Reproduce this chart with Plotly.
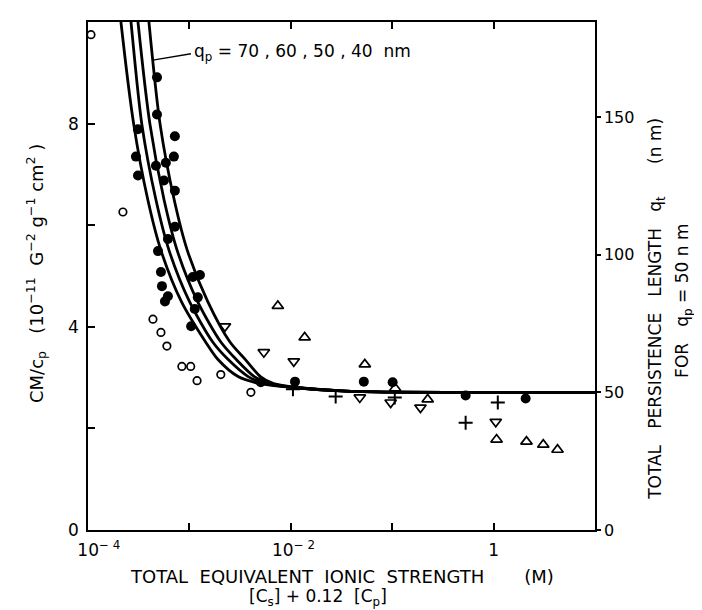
import plotly.graph_objects as go

# ---- data ----
# filled circles
filled_x = [4.79e-4, 4.79e-4, 7.19e-4, 3.11e-4, 2.97e-4, 4.68e-4, 5.86e-4, 7.03e-4, 3.11e-4, 5.61e-4,
            7.19e-4, 7.19e-4, 6.14e-4, 4.90e-4, 5.24e-4, 5.36e-4, 6.14e-4, 5.74e-4, 1.27e-3, 1.08e-3,
            1.21e-3, 1.13e-3, 1.04e-3, 5.06e-3, 1.10e-2, 5.25e-2, 0.101, 0.53, 2.07]
filled_y = [8.91, 8.18, 7.75, 7.89, 7.35, 7.17, 7.23, 7.35, 6.98, 6.88,
            6.68, 5.97, 5.73, 5.49, 5.08, 4.80, 4.60, 4.50, 5.02, 4.98,
            4.58, 4.35, 4.01, 2.91, 2.92, 2.92, 2.91, 2.65, 2.59]
# open circles
open_x = [1.07e-4, 2.21e-4, 4.37e-4, 5.24e-4, 6.0e-4, 8.43e-4, 1.03e-3, 1.19e-3, 2.04e-3, 4.04e-3]
open_y = [9.75, 6.26, 4.15, 3.89, 3.62, 3.22, 3.22, 2.94, 3.06, 2.71]
# open down-triangles
tdown_x = [2.24e-3, 5.42e-3, 1.07e-2, 4.79e-2, 9.66e-2, 0.19, 1.05]
tdown_y = [4.01, 3.50, 3.32, 2.61, 2.51, 2.41, 2.13]
# open up-triangles
tup_x = [7.45e-3, 1.37e-2, 5.37e-2, 0.107, 0.224, 1.07, 2.11, 3.09, 4.27]
tup_y = [4.41, 3.79, 3.26, 2.79, 2.57, 1.78, 1.74, 1.68, 1.58]
# plus signs
plus_x = [1.05e-2, 2.77e-2, 0.106, 0.53, 1.10]
plus_y = [2.77, 2.63, 2.61, 2.11, 2.51]

# theoretical curves (four q_p values, left to right)
curve_y = [10.5, 10.0, 8.0, 6.5, 5.5, 4.5, 3.7, 3.36, 3.02, 2.88, 2.80, 2.74, 2.715, 2.71, 2.71]
curve_x1 = [1.995e-4, 2.113e-4, 2.818e-4, 3.890e-4, 5.248e-4, 8.318e-4, 1.445e-3, 1.905e-3, 3.020e-3,
            5.012e-3, 1.122e-2, 3.162e-2, 0.1, 1.0, 10.0]
curve_x2 = [2.512e-4, 2.655e-4, 3.388e-4, 4.677e-4, 6.310e-4, 1.0e-3, 1.698e-3, 2.399e-3, 3.802e-3,
            5.623e-3, 1.148e-2, 3.162e-2, 0.1, 1.0, 10.0]
curve_x3 = [2.951e-4, 3.112e-4, 4.074e-4, 5.623e-4, 7.586e-4, 1.202e-3, 2.042e-3, 2.884e-3, 4.365e-3,
            6.166e-3, 1.175e-2, 3.162e-2, 0.1, 1.0, 10.0]
curve_x4 = [3.802e-4, 3.990e-4, 5.129e-4, 7.079e-4, 9.550e-4, 1.514e-3, 2.512e-3, 3.548e-3, 5.012e-3,
            6.761e-3, 1.202e-2, 3.162e-2, 0.1, 1.0, 10.0]

NB = "\u00a0"
x_tickvals = [1e-4, 1e-3, 1e-2, 1e-1, 1, 10]
x_ticktext = [NB * 4 + "10<sup>\u2212 4</sup>", "", NB + "10<sup>\u2212 2</sup>", "", "1", ""]
y_tickvals = [0, 2, 4, 6, 8]
y_ticktext = ["0", "", "4", "", "8"]
y2_tickvals = [0, 50, 100, 150]
y2_ticktext = ["0", "50", "100", "150"]

FONT = "DejaVu Sans"
L, R, T, B = 80, 115, 12, 88
W, H = 702, 610
PW, PH = W - L - R, H - T - B


def paper(px, py):
    return (px - L) / PW, (H - B - py) / PH


fig = go.Figure()

for cx in [curve_x1, curve_x2, curve_x3, curve_x4]:
    fig.add_trace(go.Scatter(x=cx, y=curve_y, mode="lines",
                             line=dict(color="black", width=2.8, shape="spline", smoothing=0.8),
                             hoverinfo="skip", showlegend=False))

fig.add_trace(go.Scatter(x=open_x, y=open_y, mode="markers",
                         marker=dict(symbol="circle-open", size=7.5, color="black", line=dict(width=1.7)),
                         showlegend=False))
fig.add_trace(go.Scatter(x=tdown_x, y=tdown_y, mode="markers",
                         marker=dict(symbol="triangle-down-open", size=10, color="black", line=dict(width=1.7)),
                         showlegend=False))
fig.add_trace(go.Scatter(x=tup_x, y=tup_y, mode="markers",
                         marker=dict(symbol="triangle-up-open", size=10, color="black", line=dict(width=1.7)),
                         showlegend=False))
fig.add_trace(go.Scatter(x=plus_x, y=plus_y, mode="markers",
                         marker=dict(symbol="cross-thin", size=10, color="black",
                                     line=dict(width=2, color="black")),
                         showlegend=False))
fig.add_trace(go.Scatter(x=filled_x, y=filled_y, mode="markers",
                         marker=dict(symbol="circle", size=10, color="black"),
                         showlegend=False))
# carrier for the right-hand axis (invisible)
fig.add_trace(go.Scatter(x=[curve_x1[-1]], y=[y2_tickvals[0]], yaxis="y2", mode="markers",
                         marker=dict(opacity=0), hoverinfo="skip", showlegend=False))

fig.update_layout(
    width=W, height=H,
    margin=dict(l=L, r=R, t=T, b=B),
    paper_bgcolor="white", plot_bgcolor="white",
    font=dict(family=FONT, color="black", size=16),
    xaxis=dict(type="log", range=[-4, 1], tickvals=x_tickvals, ticktext=x_ticktext,
               ticks="inside", ticklen=7, tickwidth=1.5, tickcolor="black",
               showline=True, linecolor="black", linewidth=1.5, mirror="ticks",
               showgrid=False, zeroline=False, tickfont=dict(size=17),
               ticklabelstandoff=4),
    yaxis=dict(range=[0, 10], tickvals=y_tickvals, ticktext=y_ticktext,
               ticks="inside", ticklen=7, tickwidth=1.5, tickcolor="black",
               showline=True, linecolor="black", linewidth=1.5, mirror=True,
               showgrid=False, zeroline=False, tickfont=dict(size=17),
               ticklabelstandoff=4),
    yaxis2=dict(overlaying="y", side="right", range=[0, 184.5],
                tickvals=y2_tickvals, ticktext=y2_ticktext,
                ticks="outside", ticklen=4, tickwidth=1.5, tickcolor="black",
                showline=True, linecolor="black", linewidth=1.5,
                showgrid=False, zeroline=False, tickfont=dict(size=16)),
)

# leader line and curve label
fig.add_annotation(x=-3.36, y=9.25, xref="x", yref="y", ax=-2.97, ay=9.38, axref="x", ayref="y",
                   text="", showarrow=True, arrowhead=0, arrowwidth=1.3, arrowcolor="black")
fig.add_annotation(x=-2.975, y=9.40, xref="x", yref="y", xanchor="left", yanchor="middle",
                   text="q<sub>p</sub> = 70 , 60 , 50 , 40  nm", showarrow=False, font=dict(size=17))


def title(px, py, text, angle=0, size=17):
    xa, ya = paper(px, py)
    fig.add_annotation(x=xa, y=ya, xref="paper", yref="paper", showarrow=False,
                       xanchor="center", yanchor="middle", textangle=angle,
                       text=text, font=dict(size=size))


title(334, 569, "TOTAL  EQUIVALENT  IONIC  STRENGTH       (M)", size=18)
title(310, 590, "[C<sub>s</sub>] + 0.12  [C<sub>p</sub>]")
title(28, 265, "CM/c<sub>p</sub>   (10<sup>\u221211</sup>  G<sup>\u22122</sup> g<sup>\u22121</sup> cm<sup>2</sup> )", -90, 18)
title(649, 300, "TOTAL   PERSISTENCE   LENGTH   q<sub>t</sub>      (n m)", -90)
title(676, 292, "FOR   q<sub>p</sub> = 50 n m", -90)

fig.write_html("out.html")
